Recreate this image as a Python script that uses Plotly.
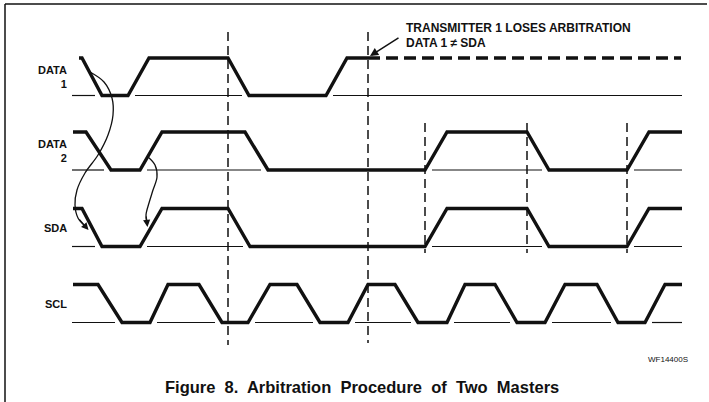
import plotly.graph_objects as go

# ---- signal data: transition times and logic levels ----
DATA1_T = [79, 82, 102, 128, 149, 228, 249, 326, 347, 368]
DATA1_V = [1, 1, 0, 0, 1, 1, 0, 0, 1, 1]
DATA1_LOST_T = [368, 681]
DATA1_LOST_V = [1, 1]

DATA2_T = [73, 86, 111, 140, 162, 245, 268, 425, 447, 527, 549, 627, 649, 682]
DATA2_V = [1, 1, 0, 0, 1, 1, 0, 0, 1, 1, 0, 0, 1, 1]

SDA_T = [73, 82, 102, 140, 162, 228, 250, 425, 447, 527, 549, 627, 649, 682]
SDA_V = [1, 1, 0, 0, 1, 1, 0, 0, 1, 1, 0, 0, 1, 1]

SCL_T = [73, 98, 122, 150, 168, 199, 222, 248, 270, 297, 320, 348, 368, 395,
         418, 447, 465, 495, 517, 545, 565, 597, 618, 645, 665, 682]
SCL_V = [1, 1, 0, 0, 1, 1, 0, 0, 1, 1, 0, 0, 1, 1,
         0, 0, 1, 1, 0, 0, 1, 1, 0, 0, 1, 1]

SIGNAL_LABELS = ["DATA<br>1", "DATA<br>2", "SDA", "SCL"]
BASELINE_SPAN = [72, 682]

# vertical timing markers (time, top, bottom)
MARKER_T = [228, 368, 425, 527, 627]
MARKER_TOP = [32, 32, 123, 123, 123]
MARKER_BOT = [345, 343, 253, 253, 253]

# curved cause/effect arrows
CURVE1_X = [90, 104, 112, 113, 108, 98, 85, 77, 75, 78, 85]
CURVE1_Y = [72, 82, 98, 115, 135, 155, 173, 190, 205, 218, 226]
CURVE2_X = [148, 155, 157, 153, 149, 146, 147]
CURVE2_Y = [157, 165, 177, 190, 203, 215, 223]

TITLE = "Figure&nbsp; 8.&nbsp; Arbitration&nbsp; Procedure&nbsp; of&nbsp; Two&nbsp; Masters"
NOTE_1 = "TRANSMITTER 1 LOSES ARBITRATION"
NOTE_2 = "DATA 1 \u2260 SDA"
CODE = "WF14400S"

# ---- layout constants (lanes: low / high y positions) ----
LANES = {
    "DATA1": (95.5, 58),
    "DATA2": (170, 132),
    "SDA": (246.5, 208.5),
    "SCL": (322.5, 284.5),
}
BASE_GAP = 7
W, H = 709, 402
INK = "#111111"


def lane_y(name, levels):
    lo, hi = LANES[name]
    return [hi if v else lo for v in levels]


def baseline_segments(t, v):
    """Thin reference line, broken where the waveform sits on it."""
    lows = [(t[i], t[i + 1]) for i in range(len(t) - 1) if v[i] == 0 and v[i + 1] == 0]
    xs = []
    start = BASELINE_SPAN[0]
    for a, b in lows:
        end = a - BASE_GAP
        if end > start:
            xs += [start, end, None]
        start = b + BASE_GAP
    if BASELINE_SPAN[1] > start:
        xs += [start, BASELINE_SPAN[1], None]
    return xs


fig = go.Figure()

SIGNALS = [("DATA1", DATA1_T, DATA1_V), ("DATA2", DATA2_T, DATA2_V),
           ("SDA", SDA_T, SDA_V), ("SCL", SCL_T, SCL_V)]

# thin baselines
for name, t, v in SIGNALS:
    lo, _ = LANES[name]
    xs = baseline_segments(t, v)
    ys = [None if x is None else lo for x in xs]
    fig.add_trace(go.Scatter(x=xs, y=ys, mode="lines", connectgaps=False,
                             line=dict(color=INK, width=1.2), hoverinfo="skip"))

# vertical dashed markers
for t, a, b in zip(MARKER_T, MARKER_TOP, MARKER_BOT):
    fig.add_trace(go.Scatter(x=[t, t], y=[a, b], mode="lines",
                             line=dict(color=INK, width=1.5, dash="9px,5px"),
                             hoverinfo="skip"))

# waveforms
for name, t, v in SIGNALS:
    fig.add_trace(go.Scatter(x=t, y=lane_y(name, v), mode="lines",
                             line=dict(color=INK, width=3.4), hoverinfo="skip"))

fig.add_trace(go.Scatter(x=DATA1_LOST_T, y=lane_y("DATA1", DATA1_LOST_V),
                         mode="lines",
                         line=dict(color=INK, width=3.4, dash="12px,6px"),
                         hoverinfo="skip"))

# curves
for cx, cy in [(CURVE1_X, CURVE1_Y), (CURVE2_X, CURVE2_Y)]:
    fig.add_trace(go.Scatter(x=cx, y=cy, mode="lines",
                             line=dict(color=INK, width=1.3, shape="spline",
                                       smoothing=1.0), hoverinfo="skip"))

annotations = []
# arrowheads at ends of curves
for cx, cy in [(CURVE1_X, CURVE1_Y), (CURVE2_X, CURVE2_Y)]:
    dx = cx[-1] - cx[-2]
    dy = cy[-1] - cy[-2]
    annotations.append(dict(x=cx[-1] + dx * 0.5, y=cy[-1] + dy * 0.5,
                            ax=cx[-2], ay=cy[-2], xref="x", yref="y",
                            axref="x", ayref="y", showarrow=True, text="",
                            arrowhead=2, arrowsize=1.1, arrowwidth=1.3,
                            arrowcolor=INK))

# signal labels
label_y = [(LANES["DATA1"][0] + LANES["DATA1"][1]) / 2,
           (LANES["DATA2"][0] + LANES["DATA2"][1]) / 2,
           (LANES["SDA"][0] + LANES["SDA"][1]) / 2,
           (LANES["SCL"][0] + LANES["SCL"][1]) / 2]
for lab, yy in zip(SIGNAL_LABELS, label_y):
    annotations.append(dict(x=69, y=yy, xref="x", yref="y", text="<b>" + lab + "</b>",
                            showarrow=False, xanchor="right", yanchor="middle",
                            align="right",
                            font=dict(family="Liberation Sans", size=11, color=INK)))

# arbitration note
annotations.append(dict(x=404, y=28, xref="x", yref="y", text="<b>" + NOTE_1 + "</b>",
                        showarrow=False, xanchor="left", yanchor="middle",
                        font=dict(family="Liberation Sans", size=12, color=INK)))
annotations.append(dict(x=404, y=43, xref="x", yref="y", text="<b>" + NOTE_2 + "</b>",
                        showarrow=False, xanchor="left", yanchor="middle",
                        font=dict(family="Liberation Sans", size=12, color=INK)))
annotations.append(dict(x=370, y=56, ax=400, ay=37, xref="x", yref="y",
                        axref="x", ayref="y", showarrow=True, text="",
                        arrowhead=2, arrowsize=1.1, arrowwidth=1.5, arrowcolor=INK))

annotations.append(dict(x=690, y=359, xref="x", yref="y", text=CODE,
                        showarrow=False, xanchor="right", yanchor="middle",
                        font=dict(family="Liberation Sans", size=8, color=INK)))
annotations.append(dict(x=361.5, y=387, xref="x", yref="y", text="<b>" + TITLE + "</b>",
                        showarrow=False, xanchor="center", yanchor="middle",
                        font=dict(family="Liberation Sans", size=16.5, color=INK)))

shapes = [
    dict(type="line", xref="x", yref="y", x0=5, y0=4, x1=5, y1=402,
         line=dict(color=INK, width=1.5)),
    dict(type="line", xref="x", yref="y", x0=5, y0=4, x1=707, y1=4,
         line=dict(color=INK, width=1.5)),
]

fig.update_layout(
    width=W, height=H, margin=dict(l=0, r=0, t=0, b=0),
    paper_bgcolor="white", plot_bgcolor="white", showlegend=False,
    xaxis=dict(range=[0, W], visible=False, fixedrange=True),
    yaxis=dict(range=[H, 0], visible=False, fixedrange=True),
    annotations=annotations, shapes=shapes,
)

fig.write_html("out.html", config={"displayModeBar": False},
               post_script="document.body.style.margin='0';"
                           "document.body.style.overflow='hidden';")
